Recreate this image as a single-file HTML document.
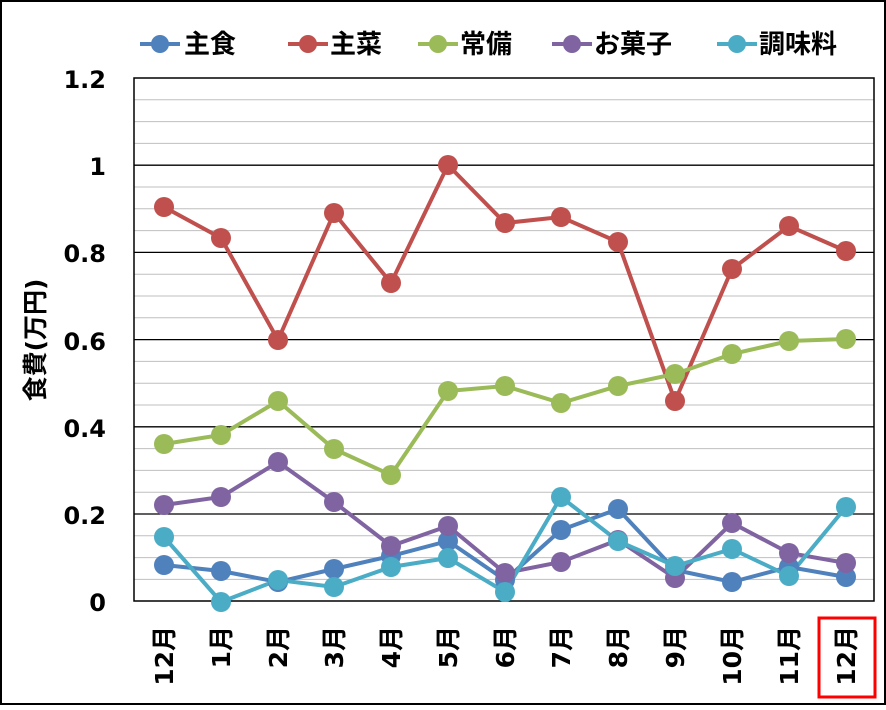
<!DOCTYPE html><html><head><meta charset="utf-8"><style>
body{margin:0;background:#fff}
svg text{font-family:"DejaVu Sans","Noto Sans CJK JP",sans-serif;font-weight:bold}
</style></head><body>
<svg width="886" height="705" xmlns="http://www.w3.org/2000/svg">
<rect x="1" y="1" width="884" height="703" fill="#fff" stroke="#000" stroke-width="2"/>
<g stroke="#bfbfbf" stroke-width="1">
<line x1="134" x2="874" y1="99.8" y2="99.8"/><line x1="134" x2="874" y1="121.6" y2="121.6"/><line x1="134" x2="874" y1="143.4" y2="143.4"/>
<line x1="134" x2="874" y1="187" y2="187"/><line x1="134" x2="874" y1="208.8" y2="208.8"/><line x1="134" x2="874" y1="230.6" y2="230.6"/>
<line x1="134" x2="874" y1="274.2" y2="274.2"/><line x1="134" x2="874" y1="296" y2="296"/><line x1="134" x2="874" y1="317.8" y2="317.8"/>
<line x1="134" x2="874" y1="361.4" y2="361.4"/><line x1="134" x2="874" y1="383.2" y2="383.2"/><line x1="134" x2="874" y1="405" y2="405"/>
<line x1="134" x2="874" y1="448.6" y2="448.6"/><line x1="134" x2="874" y1="470.4" y2="470.4"/><line x1="134" x2="874" y1="492.2" y2="492.2"/>
<line x1="134" x2="874" y1="535.8" y2="535.8"/><line x1="134" x2="874" y1="557.6" y2="557.6"/><line x1="134" x2="874" y1="579.4" y2="579.4"/>
</g>
<g stroke="#000" stroke-width="1.3">
<line x1="134" x2="874" y1="165.2" y2="165.2"/><line x1="134" x2="874" y1="252.4" y2="252.4"/><line x1="134" x2="874" y1="339.6" y2="339.6"/><line x1="134" x2="874" y1="426.8" y2="426.8"/><line x1="134" x2="874" y1="514" y2="514"/>
</g>
<rect x="134" y="78" width="740" height="523" fill="none" stroke="#000" stroke-width="1.5"/>
<g font-size="24" text-anchor="end">
<text x="106" y="88">1.2</text><text x="106" y="175">1</text><text x="106" y="262">0.8</text><text x="106" y="350">0.6</text><text x="106" y="437">0.4</text><text x="106" y="524">0.2</text><text x="106" y="611">0</text>
</g>
<text transform="translate(44,340) rotate(-90)" font-size="25" text-anchor="middle">食費(万円)</text>
<g font-size="25" text-anchor="end">
<text transform="translate(173,626) rotate(-90)">12月</text>
<text transform="translate(230,626) rotate(-90)">1月</text>
<text transform="translate(287,626) rotate(-90)">2月</text>
<text transform="translate(343,626) rotate(-90)">3月</text>
<text transform="translate(400,626) rotate(-90)">4月</text>
<text transform="translate(457,626) rotate(-90)">5月</text>
<text transform="translate(514,626) rotate(-90)">6月</text>
<text transform="translate(570,626) rotate(-90)">7月</text>
<text transform="translate(627,626) rotate(-90)">8月</text>
<text transform="translate(684,626) rotate(-90)">9月</text>
<text transform="translate(741,626) rotate(-90)">10月</text>
<text transform="translate(798,626) rotate(-90)">11月</text>
<text transform="translate(855,626) rotate(-90)">12月</text>
</g>
<rect x="819" y="618" width="56" height="79" fill="none" stroke="#ff0000" stroke-width="3"/>
<g stroke-width="4" fill="none">
<polyline stroke="#4F81BD" points="164,565 221,571 278,582 334,569 391,556 448,541 505,580 561,530 618,509 675,570 732,582 789,567 846,577"/>
<polyline stroke="#C0504D" points="164,207 221,238 278,340 334,213 391,283 448,165 505,223 561,217 618,242 675,401 732,269 789,226 846,251"/>
<polyline stroke="#9BBB59" points="164,444 221,435 278,401 334,449 391,475 448,391 505,386 561,403 618,386 675,374 732,354 789,341 846,339"/>
<polyline stroke="#8064A2" points="164,505 221,497 278,462 334,502 391,546 448,526 505,573 561,562 618,540 675,578 732,523 789,553 846,563"/>
<polyline stroke="#4BACC6" points="164,537 221,602 278,580 334,587 391,567 448,558 505,592 561,497 618,541 675,566 732,549 789,576 846,507"/>
</g>
<g fill="#4F81BD"><circle cx="164" cy="565" r="10"/><circle cx="221" cy="571" r="10"/><circle cx="278" cy="582" r="10"/><circle cx="334" cy="569" r="10"/><circle cx="391" cy="556" r="10"/><circle cx="448" cy="541" r="10"/><circle cx="505" cy="580" r="10"/><circle cx="561" cy="530" r="10"/><circle cx="618" cy="509" r="10"/><circle cx="675" cy="570" r="10"/><circle cx="732" cy="582" r="10"/><circle cx="789" cy="567" r="10"/><circle cx="846" cy="577" r="10"/></g>
<g fill="#C0504D"><circle cx="164" cy="207" r="10"/><circle cx="221" cy="238" r="10"/><circle cx="278" cy="340" r="10"/><circle cx="334" cy="213" r="10"/><circle cx="391" cy="283" r="10"/><circle cx="448" cy="165" r="10"/><circle cx="505" cy="223" r="10"/><circle cx="561" cy="217" r="10"/><circle cx="618" cy="242" r="10"/><circle cx="675" cy="401" r="10"/><circle cx="732" cy="269" r="10"/><circle cx="789" cy="226" r="10"/><circle cx="846" cy="251" r="10"/></g>
<g fill="#9BBB59"><circle cx="164" cy="444" r="10"/><circle cx="221" cy="435" r="10"/><circle cx="278" cy="401" r="10"/><circle cx="334" cy="449" r="10"/><circle cx="391" cy="475" r="10"/><circle cx="448" cy="391" r="10"/><circle cx="505" cy="386" r="10"/><circle cx="561" cy="403" r="10"/><circle cx="618" cy="386" r="10"/><circle cx="675" cy="374" r="10"/><circle cx="732" cy="354" r="10"/><circle cx="789" cy="341" r="10"/><circle cx="846" cy="339" r="10"/></g>
<g fill="#8064A2"><circle cx="164" cy="505" r="10"/><circle cx="221" cy="497" r="10"/><circle cx="278" cy="462" r="10"/><circle cx="334" cy="502" r="10"/><circle cx="391" cy="546" r="10"/><circle cx="448" cy="526" r="10"/><circle cx="505" cy="573" r="10"/><circle cx="561" cy="562" r="10"/><circle cx="618" cy="540" r="10"/><circle cx="675" cy="578" r="10"/><circle cx="732" cy="523" r="10"/><circle cx="789" cy="553" r="10"/><circle cx="846" cy="563" r="10"/></g>
<g fill="#4BACC6"><circle cx="164" cy="537" r="10"/><circle cx="221" cy="602" r="10"/><circle cx="278" cy="580" r="10"/><circle cx="334" cy="587" r="10"/><circle cx="391" cy="567" r="10"/><circle cx="448" cy="558" r="10"/><circle cx="505" cy="592" r="10"/><circle cx="561" cy="497" r="10"/><circle cx="618" cy="541" r="10"/><circle cx="675" cy="566" r="10"/><circle cx="732" cy="549" r="10"/><circle cx="789" cy="576" r="10"/><circle cx="846" cy="507" r="10"/></g>
<g font-size="26" stroke-width="4">
<line x1="140" x2="180" y1="44" y2="44" stroke="#4F81BD"/><circle cx="160" cy="44" r="9" fill="#4F81BD"/><text x="184" y="53">主食</text>
<line x1="288" x2="328" y1="44" y2="44" stroke="#C0504D"/><circle cx="308" cy="44" r="9" fill="#C0504D"/><text x="330" y="53">主菜</text>
<line x1="418" x2="458" y1="44" y2="44" stroke="#9BBB59"/><circle cx="438" cy="44" r="9" fill="#9BBB59"/><text x="460" y="53">常備</text>
<line x1="552" x2="592" y1="44" y2="44" stroke="#8064A2"/><circle cx="572" cy="44" r="9" fill="#8064A2"/><text x="594" y="53">お菓子</text>
<line x1="717" x2="757" y1="44" y2="44" stroke="#4BACC6"/><circle cx="737" cy="44" r="9" fill="#4BACC6"/><text x="759" y="53">調味料</text>
</g>
</svg>
</body></html>
